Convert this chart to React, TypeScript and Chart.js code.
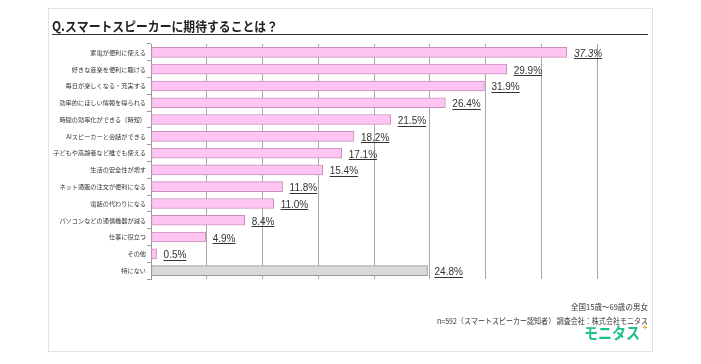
import React, { useEffect, useRef } from "react";
import { Chart, registerables } from "chart.js";

Chart.register(...registerables);

const titleText = "Q.スマートスピーカーに期待することは？";
const categories = [
  "家電が便利に使える",
  "好きな音楽を便利に聴ける",
  "毎日が楽しくなる・充実する",
  "効率的にほしい情報を得られる",
  "時間の効率化ができる（時短）",
  "AIスピーカーと会話ができる",
  "子どもや高齢者など誰でも使える",
  "生活の安全性が増す",
  "ネット通販の注文が便利になる",
  "電話の代わりになる",
  "パソコンなどの通信機器が減る",
  "仕事に役立つ",
  "その他",
  "特にない",
];
const barValues = [37.3, 31.9, 29.9, 26.4, 21.5, 18.2, 17.1, 15.4, 11.8, 11.0, 8.4, 4.9, 0.5, 24.8];
const valueLabels = [
  "37.3%", "29.9%", "31.9%", "26.4%", "21.5%", "18.2%", "17.1%",
  "15.4%", "11.8%", "11.0%", "8.4%", "4.9%", "0.5%", "24.8%",
];
const footer1 = "全国15歳～69歳の男女";
const footer2 = "n=592（スマートスピーカー認知者） 調査会社：株式会社モニタス";
const logoText = "モニタス";

const JP = '"Noto Sans CJK JP", "Noto Sans", sans-serif';
const LAT = '"Liberation Sans", Arial, sans-serif';

const decorPlugin = {
  id: "decor",
  beforeDraw(chart: any) {
    const ctx = chart.ctx;
    ctx.save();
    ctx.fillStyle = "#ffffff";
    ctx.fillRect(0, 0, chart.width, chart.height);
    ctx.strokeStyle = "#e2e2e2";
    ctx.lineWidth = 1;
    ctx.strokeRect(48.5, 8.5, 604, 343);
    // title
    ctx.fillStyle = "#222";
    ctx.font = `bold 13px ${JP}`;
    ctx.textBaseline = "alphabetic";
    ctx.textAlign = "left";
    ctx.fillText(titleText, 52, 31, 226);
    ctx.strokeStyle = "#333";
    ctx.beginPath();
    ctx.moveTo(52, 34.5);
    ctx.lineTo(648, 34.5);
    ctx.stroke();
    // footer
    ctx.textAlign = "right";
    ctx.textBaseline = "middle";
    ctx.fillStyle = "#333";
    ctx.font = `8px ${JP}`;
    ctx.fillText(footer1, 648, 307, 77);
    ctx.font = `7.5px ${JP}`;
    ctx.fillText(footer2, 648, 321, 211);
    ctx.fillStyle = "#1fbf8e";
    ctx.font = `bold 16px ${JP}`;
    ctx.fillText(logoText, 640, 333, 56);
    ctx.fillStyle = "#f5a020";
    ctx.font = `bold 8px ${LAT}`;
    ctx.textAlign = "center";
    ctx.fillText("+", 645, 328);
    ctx.restore();
  },
  afterDatasetsDraw(chart: any) {
    const ctx = chart.ctx;
    const meta = chart.getDatasetMeta(0);
    ctx.save();
    ctx.fillStyle = "#333";
    ctx.strokeStyle = "#333";
    ctx.lineWidth = 1;
    ctx.textAlign = "left";
    ctx.textBaseline = "alphabetic";
    meta.data.forEach((el: any, i: number) => {
      ctx.font = i === 0 ? `italic 10px ${LAT}` : `10px ${LAT}`;
      const x = el.x + 7;
      const y = el.y + 4.5;
      const t = valueLabels[i];
      ctx.fillText(t, x, y);
      const w = ctx.measureText(t).width;
      ctx.beginPath();
      ctx.moveTo(x, Math.round(y + 1.5) + 0.5);
      ctx.lineTo(x + w, Math.round(y + 1.5) + 0.5);
      ctx.stroke();
    });
    ctx.restore();
  },
};

export default function App() {
  const ref = useRef<HTMLCanvasElement | null>(null);
  useEffect(() => {
    document.body.style.margin = "0";
    if (!ref.current) return;
    const chart = new Chart(ref.current, {
      type: "bar",
      data: {
        labels: categories,
        datasets: [
          {
            data: barValues,
            backgroundColor: barValues.map((_, i) => (i === barValues.length - 1 ? "#d9d9d9" : "#ffc4f2")),
            borderColor: barValues.map((_, i) => (i === barValues.length - 1 ? "#999999" : "#c98fbb")),
            borderWidth: 1,
            barThickness: 10,
            borderSkipped: false,
          },
        ],
      },
      options: {
        indexAxis: "y",
        responsive: false,
        animation: false,
        devicePixelRatio: 1,
        layout: { padding: { left: 0, top: 44, right: 104, bottom: 85 } },
        plugins: { legend: { display: false }, tooltip: { enabled: false }, title: { display: false } },
        scales: {
          x: {
            min: 0,
            max: 40,
            ticks: { display: false, stepSize: 5 },
            grid: { color: "#a8a8a8", drawTicks: false, lineWidth: 1 },
            border: { display: false },
            afterFit: (s: any) => {
              s.height = 0;
            },
          },
          y: {
            ticks: {
              color: "#333",
              font: { family: JP, size: 6.2 },
              padding: 1,
              autoSkip: false,
            },
            grid: { drawOnChartArea: false, tickLength: 4, color: "#999", offset: true },
            border: { display: true, color: "#999" },
            afterFit: (s: any) => {
              s.width = 151;
            },
          },
        },
      },
      plugins: [decorPlugin],
    } as any);
    return () => chart.destroy();
  }, []);
  return (
    <div style={{ width: 701, height: 364 }}>
      <canvas ref={ref} width={701} height={364} style={{ display: "block" }} />
    </div>
  );
}
